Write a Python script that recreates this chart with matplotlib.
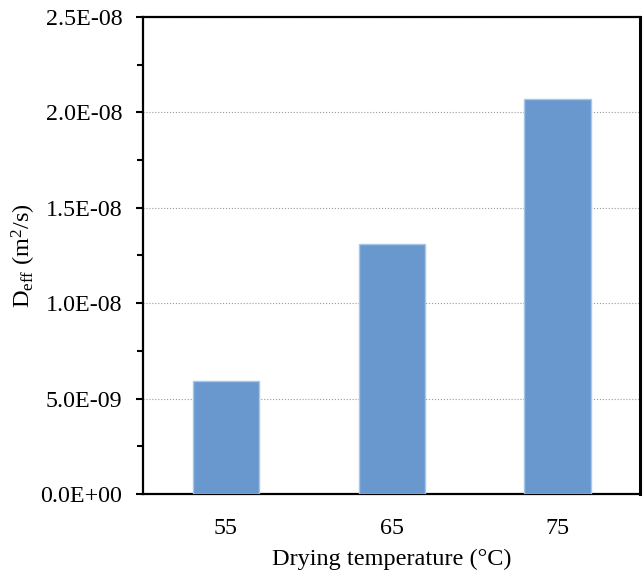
import matplotlib
matplotlib.use('Agg')
import matplotlib.pyplot as plt
from matplotlib.ticker import MultipleLocator, FuncFormatter

plt.rcParams['font.family'] = 'Liberation Serif'
plt.rcParams['mathtext.fontset'] = 'custom'
plt.rcParams['mathtext.rm'] = 'Liberation Serif'
plt.rcParams['mathtext.it'] = 'Liberation Serif:italic'

temperatures = ['55', '65', '75']
deff_values = [5.94e-09, 1.31e-08, 2.07e-08]

fig = plt.figure(figsize=(6.43, 5.72), dpi=100)
ax = fig.add_axes([0.2224, 0.1364, 0.7737, 0.8339])

ax.bar(range(len(temperatures)), deff_values, width=0.4,
       color='#6898CE', edgecolor='#A8C6EA', linewidth=1, zorder=3)

ax.set_xlim(-0.5, 2.5)
ax.set_ylim(0, 2.5e-08)
ax.set_xticks(range(len(temperatures)))
ax.set_xticklabels(temperatures)
ax.yaxis.set_major_locator(MultipleLocator(5e-09))
ax.yaxis.set_minor_locator(MultipleLocator(2.5e-09))
ax.yaxis.set_major_formatter(FuncFormatter(lambda v, p: f'{v:.1E}'))

ax.grid(axis='y', which='major', linestyle=':', color='#9a9a9a', linewidth=0.8, zorder=0)

ax.tick_params(axis='y', which='major', direction='out', length=5, width=1.5,
               labelsize=17.3, pad=10)
ax.tick_params(axis='y', which='minor', direction='out', length=4, width=1.5)
ax.tick_params(axis='x', length=0, labelsize=17.3, pad=17)

for side in ['left', 'bottom', 'top']:
    ax.spines[side].set_linewidth(1.6)
ax.spines['right'].set_linewidth(2.2)

ax.set_xlabel('Drying temperature (°C)', fontsize=17.5, labelpad=7)
ax.set_ylabel(r'D$_{\mathrm{eff}}$ (m$^{2}$/s)', fontsize=17.5, labelpad=2)

plt.savefig('out.png', dpi=100)
